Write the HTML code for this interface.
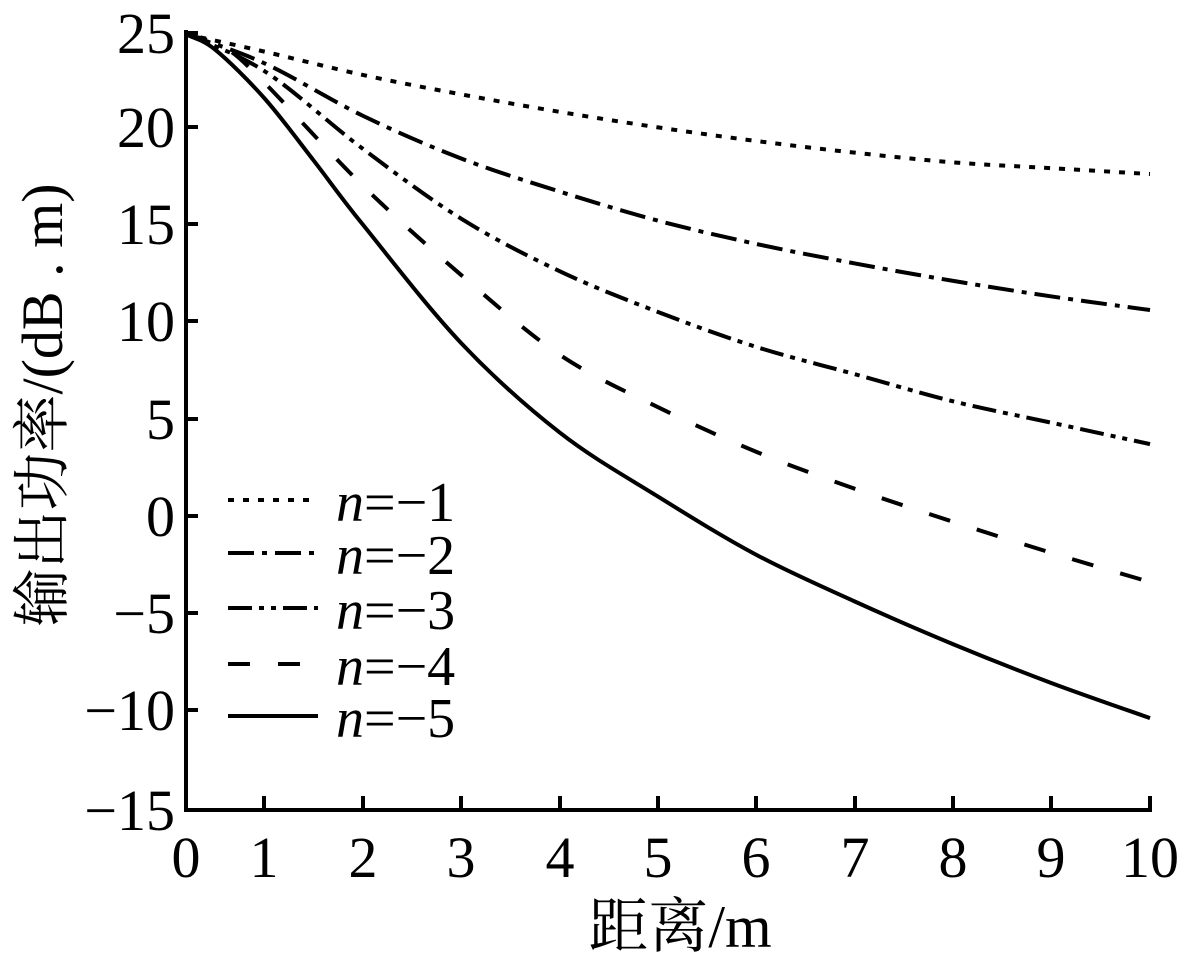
<!DOCTYPE html>
<html><head><meta charset="utf-8"><style>
html,body{margin:0;padding:0;background:#fff;}
svg text{font-family:"Liberation Serif","Noto Serif CJK SC",serif;fill:#000;}
</style></head><body>
<svg id="s" width="1194" height="964" viewBox="0 0 1194 964" xmlns="http://www.w3.org/2000/svg">
<g stroke="#000" stroke-width="4" fill="none">
<polyline points="186,30 186,810 1150,810 1150,796"/>
<line x1="186" y1="33" x2="198" y2="33"/><line x1="186" y1="127" x2="198" y2="127"/>
<line x1="186" y1="224" x2="198" y2="224"/><line x1="186" y1="321" x2="198" y2="321"/>
<line x1="186" y1="419" x2="198" y2="419"/><line x1="186" y1="516" x2="198" y2="516"/>
<line x1="186" y1="613" x2="198" y2="613"/><line x1="186" y1="710" x2="198" y2="710"/>
<line x1="264" y1="810" x2="264" y2="796"/><line x1="363" y1="810" x2="363" y2="796"/>
<line x1="461" y1="810" x2="461" y2="796"/><line x1="560" y1="810" x2="560" y2="796"/>
<line x1="658" y1="810" x2="658" y2="796"/><line x1="756" y1="810" x2="756" y2="796"/>
<line x1="855" y1="810" x2="855" y2="796"/><line x1="953" y1="810" x2="953" y2="796"/>
<line x1="1051" y1="810" x2="1051" y2="796"/>
</g>
<g font-size="58" text-anchor="end">
<text x="175" y="53">25</text><text x="175" y="147">20</text><text x="175" y="244">15</text>
<text x="175" y="341">10</text><text x="175" y="439">5</text><text x="175" y="536">0</text>
<text x="175" y="633">−5</text><text x="175" y="730">−10</text><text x="175" y="830">−15</text>
</g>
<g font-size="58" text-anchor="middle">
<text x="186" y="877">0</text><text x="264" y="877">1</text><text x="363" y="877">2</text>
<text x="461" y="877">3</text><text x="560" y="877">4</text><text x="658" y="877">5</text>
<text x="756" y="877">6</text><text x="855" y="877">7</text><text x="953" y="877">8</text>
<text x="1051" y="877">9</text><text x="1150" y="877">10</text>
<text x="680" y="947" font-size="60">距离/m</text>
<text transform="translate(62,405) rotate(-90)" font-size="58">输出功率/(dB . m)</text>
</g>
<g id="curves" fill="none" stroke="#000" stroke-width="4"></g>
<g stroke="#000" stroke-width="4">
<line x1="228" y1="500" x2="318" y2="500" stroke-dasharray="6,9"/>
<line x1="228" y1="553" x2="318" y2="553" stroke-dasharray="26,8,5,8"/>
<line x1="228" y1="608" x2="318" y2="608" stroke-dasharray="24,7,5,7,5,7"/>
<line x1="228" y1="664" x2="318" y2="664" stroke-dasharray="22,28"/>
<line x1="228" y1="716" x2="318" y2="716"/>
</g>
<g font-size="56">
<text x="336" y="521"><tspan font-style="italic">n</tspan>=−1</text>
<text x="336" y="574"><tspan font-style="italic">n</tspan>=−2</text>
<text x="336" y="629"><tspan font-style="italic">n</tspan>=−3</text>
<text x="336" y="685"><tspan font-style="italic">n</tspan>=−4</text>
<text x="336" y="737"><tspan font-style="italic">n</tspan>=−5</text>
</g>
</svg>
<script>
var X=function(v){return 166+98.4*v},Y=function(v){return 516-19.43*v};
var data=[
 [[0.2,24.8],[1,23.9],[2,22.7],[3,21.7],[4,20.8],[5,20.0],[6,19.3],[7,18.7],[8,18.2],[9,17.9],[10,17.6],"6,9"],
 [[0.2,24.8],[1,23.3],[2,20.6],[3,18.4],[4,16.7],[5,15.2],[6,14.0],[7,13.0],[8,12.1],[9,11.3],[10,10.6],"26,8,5,8"],
 [[0.2,24.8],[1,22.9],[2,18.9],[3,15.3],[4,12.6],[5,10.5],[6,8.7],[7,7.3],[8,5.9],[9,4.8],[10,3.7],"24,7,5,7,5,7"],
 [[0.2,24.8],[0.6,24.1],[1,22.3],[2,17.0],[3,12.4],[4,8.3],[5,5.6],[6,3.3],[7,1.4],[8,-0.3],[9,-1.9],[10,-3.4],"22,28"],
 [[0.2,24.8],[0.5,24.0],[1,21.5],[1.5,18.3],[2,15.0],[3,8.9],[4,4.3],[5,1.0],[6,-2.0],[7,-4.4],[8,-6.6],[9,-8.6],[10,-10.4],""]
];
var g=document.getElementById("curves"),ns="http://www.w3.org/2000/svg";
data.forEach(function(d){
 var da=d.pop(),p=d.map(function(q){return[X(q[0]),Y(q[1])]});
 var s="M"+p[0][0]+","+p[0][1];
 for(var i=0;i<p.length-1;i++){
  var p0=p[i-1]||p[i],p1=p[i],p2=p[i+1],p3=p[i+2]||p2;
  s+=" C"+(p1[0]+(p2[0]-p0[0])/6)+","+(p1[1]+(p2[1]-p0[1])/6)+" "+(p2[0]-(p3[0]-p1[0])/6)+","+(p2[1]-(p3[1]-p1[1])/6)+" "+p2[0]+","+p2[1];
 }
 var e=document.createElementNS(ns,"path");e.setAttribute("d",s);
 if(da)e.setAttribute("stroke-dasharray",da);g.appendChild(e);
});
</script>
</body></html>
